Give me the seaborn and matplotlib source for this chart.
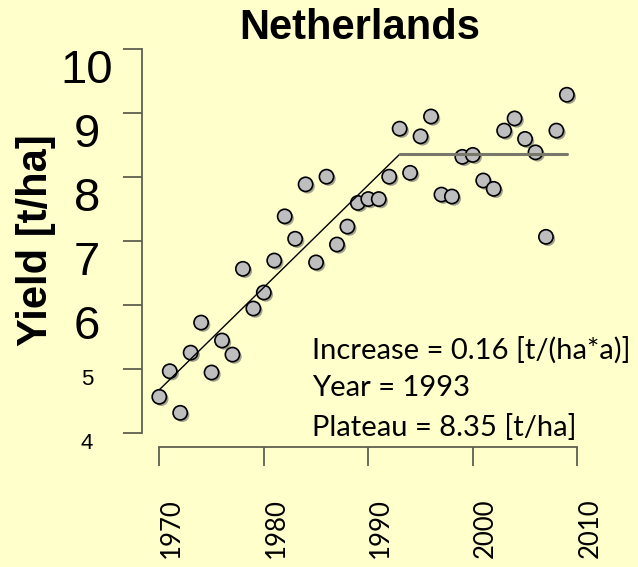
import matplotlib
matplotlib.use('Agg')
import numpy as np
import pandas as pd
import matplotlib.pyplot as plt
import matplotlib.patheffects as pe
import seaborn as sns

# yearly yield, Netherlands
years = list(range(1970, 2010))
yields = [4.56, 4.96, 4.31, 5.25, 5.72, 4.94, 5.44, 5.22, 6.56, 5.94,
          6.19, 6.69, 7.38, 7.03, 7.88, 6.66, 8.00, 6.94, 7.22, 7.59,
          7.65, 7.65, 8.00, 8.75, 8.06, 8.63, 8.94, 7.72, 7.69, 8.31,
          8.34, 7.94, 7.81, 8.72, 8.91, 8.59, 8.38, 7.06, 8.72, 9.28]

# segmented fit parameters
increase = 0.16
break_year = 1993
plateau = 8.35

yticks = [4, 5, 6, 7, 8, 9, 10]
xticks = [1970, 1980, 1990, 2000, 2010]

df = pd.DataFrame({'year': years, 'yield': yields})

bg = '#FFFFCC'
axcol = '#5f5f50'

sns.set_style('ticks')
plt.rcParams['font.family'] = ['Liberation Sans', 'DejaVu Sans']
plt.rcParams['text.color'] = 'black'
plt.rcParams['xtick.labelcolor'] = 'black'
plt.rcParams['ytick.labelcolor'] = 'black'

fig = plt.figure(figsize=(6.38, 5.67), dpi=100, facecolor=bg)
ax = fig.add_axes([0.2221, 0.2122, 0.7183, 0.7173])
ax.set_facecolor(bg)

sns.scatterplot(data=df, x='year', y='yield', ax=ax, s=105, color='#bebebe',
                edgecolor='black', linewidth=1.2, zorder=2,
                path_effects=[pe.SimplePatchShadow(offset=(1.5, -1.5), shadow_rgbFace='#8c8c80', alpha=0.8),
                              pe.Normal()])

# fitted line: linear rise then plateau
start_y = plateau - increase * (break_year - years[0])
ax.plot([years[0], break_year], [start_y, plateau], color='black', lw=1, zorder=3)
ax.plot([break_year, years[-1]], [plateau, plateau], color='#77776a', lw=2.2, zorder=3)

ax.set_xlim(1968.316, 2012.17)
ax.set_ylim(3.781, 10.136)
ax.set_xlabel('')
ax.set_ylabel('')

sns.despine(ax=ax)
for s in ['left', 'bottom']:
    ax.spines[s].set_color(axcol)
    ax.spines[s].set_linewidth(1.3)
ax.spines['left'].set_bounds(4, 10)
ax.spines['bottom'].set_bounds(1970, 2010)

ax.set_yticks(yticks)
ax.set_yticklabels([str(v) for v in yticks])
ax.tick_params(axis='y', length=13.5, width=1.3, color=axcol, pad=26)
for lab, v in zip(ax.get_yticklabels(), yticks):
    lab.set_fontsize(34 if v >= 6 else 16)
    lab.set_ha('center')
    lab.set_va('top')

ax.set_xticks(xticks)
ax.set_xticklabels([str(v) for v in xticks], rotation=90, family='Lato', fontsize=18.5)
ax.tick_params(axis='x', length=14, width=1.3, color=axcol, pad=23)
for lab in ax.get_xticklabels():
    lab.set_ha('left')
    lab.set_va('top')

fig.text(359.5 / 638, 1 - 28 / 567, 'Netherlands', ha='center', va='center',
         fontsize=30, fontweight='bold')
fig.text(36 / 638, 1 - 240 / 567, 'Yield [t/ha]', ha='center', va='center',
         rotation=90, fontsize=30, fontweight='bold')

notes = ['Increase = %.2f [t/(ha*a)]' % increase,
         'Year = %d' % break_year,
         'Plateau = %.2f [t/ha]' % plateau]
for i, t in enumerate(notes):
    fig.text(312 / 638, 1 - (350 + 38.5 * i) / 567, t, ha='left', va='center',
             fontsize=21, family='Lato')

fig.savefig('out.png', dpi=100, facecolor=bg)
